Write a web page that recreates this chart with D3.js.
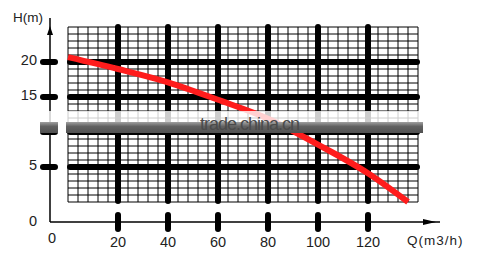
<!DOCTYPE html>
<html>
<head>
<meta charset="utf-8">
<script src="https://cdn.jsdelivr.net/npm/d3@7"></script>
<style>
body { margin: 0; background: #fff; }
svg { display: block; }
text { font-family: "Liberation Sans", Arial, sans-serif; fill: #222; }
</style>
</head>
<body>
<svg width="503" height="260"></svg>
<script>
// pump curve: flow Q (m3/h) vs head H (m)
const flow = [0, 20, 40, 60, 80, 100, 120, 136];
const head = [20.7, 19.0, 17.1, 14.6, 11.9, 8.2, 4.1, 0.0];

const qTicks = [20, 40, 60, 80, 100, 120];
const hTicks = [5, 10, 15, 20];
const hLabels = [20, 15, 5];
const qMinor = d3.range(0, 141, 4);
const hMinor = d3.range(0, 26, 1);

const svg = d3.select('svg');

const x = d3.scaleLinear().domain([0, 140]).range([68, 418]);
const y = d3.scaleLinear().domain([0, 25]).range([202, 27]);

const axisX = 50, axisY = 222;

// fine grid
svg.append('g').selectAll('line')
    .data(qMinor)
    .enter().append('line')
    .attr('x1', d => x(d)).attr('x2', d => x(d))
    .attr('y1', y(25)).attr('y2', y(0))
    .attr('stroke', '#000').attr('stroke-width', 1);

svg.append('g').selectAll('line')
    .data(hMinor)
    .enter().append('line')
    .attr('x1', x(0)).attr('x2', x(140))
    .attr('y1', d => y(d)).attr('y2', d => y(d))
    .attr('stroke', '#000').attr('stroke-width', 1);

// heavy grid lines
svg.append('g').selectAll('line')
    .data(hTicks)
    .enter().append('line')
    .attr('x1', x(0) + 2).attr('x2', x(140) - 1)
    .attr('y1', d => y(d)).attr('y2', d => y(d))
    .attr('stroke', '#000').attr('stroke-width', 6)
    .attr('stroke-linecap', 'round');

svg.append('g').selectAll('line')
    .data(qTicks)
    .enter().append('line')
    .attr('x1', d => x(d)).attr('x2', d => x(d))
    .attr('y1', y(25)).attr('y2', y(0) - 1)
    .attr('stroke', '#000').attr('stroke-width', 6)
    .attr('stroke-linecap', 'round');

// axes
svg.append('line')
    .attr('x1', axisX).attr('x2', 440).attr('y1', axisY).attr('y2', axisY)
    .attr('stroke', '#000').attr('stroke-width', 1.5);
svg.append('polygon')
    .attr('points', `436,${axisY} 423,${axisY - 3} 423,${axisY + 3}`)
    .attr('fill', '#000');
svg.append('line')
    .attr('x1', axisX).attr('x2', axisX).attr('y1', axisY).attr('y2', 18)
    .attr('stroke', '#000').attr('stroke-width', 1.5);
svg.append('polygon')
    .attr('points', `${axisX},26 ${axisX - 3},35 ${axisX + 3},35`)
    .attr('fill', '#000');

// axis tick bars
svg.append('g').selectAll('line')
    .data(qTicks)
    .enter().append('line')
    .attr('x1', d => x(d)).attr('x2', d => x(d))
    .attr('y1', axisY - 7).attr('y2', axisY + 7)
    .attr('stroke', '#000').attr('stroke-width', 6)
    .attr('stroke-linecap', 'round');

svg.append('g').selectAll('line')
    .data(hTicks)
    .enter().append('line')
    .attr('x1', 43).attr('x2', 55)
    .attr('y1', d => y(d)).attr('y2', d => y(d))
    .attr('stroke', '#000').attr('stroke-width', 6)
    .attr('stroke-linecap', 'round');

// labels
svg.append('g').selectAll('text')
    .data(qTicks)
    .enter().append('text')
    .attr('x', d => x(d)).attr('y', 247)
    .attr('text-anchor', 'middle')
    .attr('font-size', 14.5)
    .text(d => d);

svg.append('g').selectAll('text')
    .data(hLabels)
    .enter().append('text')
    .attr('x', 37).attr('y', d => y(d) + 3)
    .attr('text-anchor', 'end')
    .attr('font-size', 14.5)
    .text(d => d);

svg.append('text').attr('x', 37).attr('y', 226).attr('text-anchor', 'end')
    .attr('font-size', 14.5).text('0');
svg.append('text').attr('x', 52).attr('y', 243).attr('text-anchor', 'middle')
    .attr('font-size', 14.5).text('0');
svg.append('text').attr('x', 13).attr('y', 22)
    .attr('font-size', 13.5).text('H(m)');
svg.append('text').attr('x', 407).attr('y', 245)
    .attr('font-size', 13.5).attr('letter-spacing', 1).text('Q(m3/h)');

// the curve
const line = d3.line()
    .x(d => x(d[0]))
    .y(d => y(d[1]))
    .curve(d3.curveMonotoneX);

svg.append('path')
    .datum(d3.zip(flow, head))
    .attr('d', line)
    .attr('fill', 'none')
    .attr('stroke', '#ff1c1c')
    .attr('stroke-width', 6);

// watermark band
const defs = svg.append('defs');
const grad = defs.append('linearGradient')
    .attr('id', 'band').attr('x1', 0).attr('x2', 0).attr('y1', 0).attr('y2', 1);
grad.append('stop').attr('offset', 0).attr('stop-color', '#a0a0a0');
grad.append('stop').attr('offset', 0.4).attr('stop-color', '#626262');
grad.append('stop').attr('offset', 1).attr('stop-color', '#505050');

svg.append('rect')
    .attr('x', 36).attr('y', 111).attr('width', 390).attr('height', 22)
    .attr('fill', '#fff').attr('opacity', 0.8);
svg.append('rect')
    .attr('x', 40).attr('y', 122).attr('width', 18).attr('height', 11)
    .attr('fill', 'url(#band)');
svg.append('rect')
    .attr('x', 66).attr('y', 122).attr('width', 357).attr('height', 11)
    .attr('fill', 'url(#band)');
svg.append('text')
    .attr('x', 200).attr('y', 130)
    .attr('font-size', 18)
    .attr('textLength', 100)
    .style('fill', '#4a4a4a')
    .text('trade.china.cn');
</script>
</body>
</html>
